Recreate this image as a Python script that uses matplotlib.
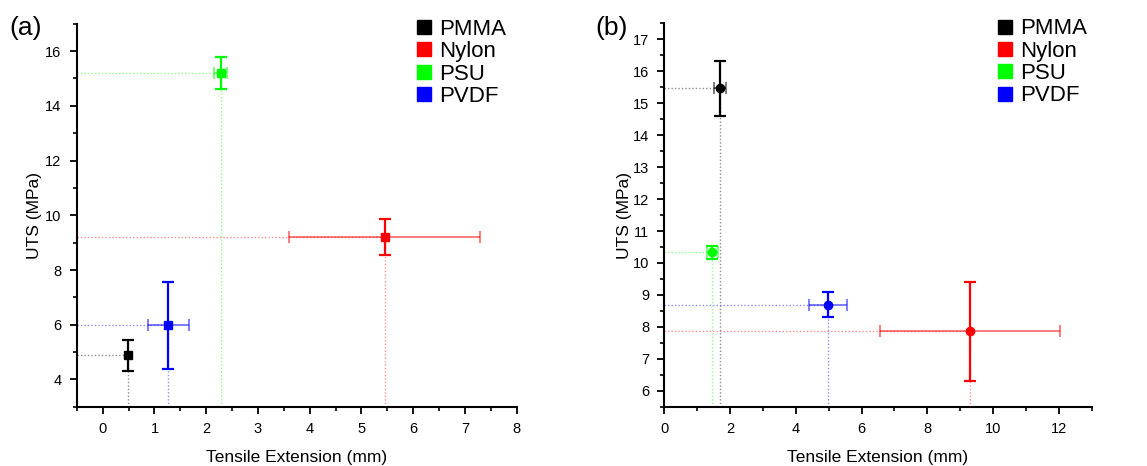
import matplotlib.pyplot as plt
from matplotlib.lines import Line2D
from matplotlib.ticker import MultipleLocator

plt.rcParams['font.family'] = ['Liberation Sans', 'DejaVu Sans']

materials = ["PMMA", "Nylon", "PSU", "PVDF"]
colors = ["#000000", "#ff0000", "#00ff00", "#0000ff"]

# панель (a)
ext_a = [0.48, 5.45, 2.28, 1.27]
ext_err_a = [0.0, 1.85, 0.13, 0.39]
uts_a = [4.88, 9.2, 15.2, 5.98]
uts_err_a = [0.57, 0.65, 0.58, 1.58]

# панель (b)
ext_b = [1.69, 9.3, 1.46, 4.98]
ext_err_b = [0.18, 2.74, 0.17, 0.59]
uts_b = [15.46, 7.87, 10.33, 8.7]
uts_err_b = [0.87, 1.55, 0.21, 0.38]


def draw_panel(ax, x, xe, y, ye, marker, xlim, ylim, ylabelpad, leg_x):
    for i in range(len(materials)):
        c = colors[i]
        # пунктирні лінії до осей
        ax.plot([xlim[0], x[i]], [y[i], y[i]], ls=(0, (1, 1.5)), lw=1, color=c, alpha=0.45, zorder=1)
        ax.plot([x[i], x[i]], [ylim[0], y[i]], ls=(0, (1, 1.5)), lw=1, color=c, alpha=0.45, zorder=1)
        if xe[i] > 0:
            ax.errorbar(x[i], y[i], xerr=xe[i], fmt='none', ecolor=c, alpha=0.6,
                        elinewidth=1.2, capsize=4, capthick=1.2, zorder=2)
        ax.errorbar(x[i], y[i], yerr=ye[i], fmt=marker, color=c, ms=6,
                    ecolor=c, elinewidth=1.6, capsize=4, capthick=1.6, zorder=3)
    ax.set_xlim(*xlim)
    ax.set_ylim(*ylim)
    for s in ['top', 'right']:
        ax.spines[s].set_visible(False)
    for s in ['left', 'bottom']:
        ax.spines[s].set_linewidth(1.5)
    ax.tick_params(which='major', direction='out', length=5, width=1.3, labelsize=10.5, pad=6)
    ax.tick_params(which='minor', direction='out', length=3, width=1.2)
    ax.set_xlabel("Tensile Extension (mm)", fontsize=12.5, labelpad=10)
    ax.set_ylabel("UTS (MPa)", fontsize=12.5, labelpad=ylabelpad)
    handles = [Line2D([], [], ls='none', marker='s', ms=10.5, color=c) for c in colors]
    ax.legend(handles, materials, loc='upper right', bbox_to_anchor=(leg_x, 1.065),
              frameon=False, fontsize=16, labelspacing=0.06, handletextpad=0.2,
              handlelength=1.0)


fig = plt.figure(figsize=(11.47, 4.66), dpi=100)
ax1 = fig.add_axes([0.067, 0.127, 0.3835, 0.822])
ax2 = fig.add_axes([0.5792, 0.127, 0.3726, 0.823])

draw_panel(ax1, ext_a, ext_err_a, uts_a, uts_err_a, 's', (-0.5, 8), (3, 17), 2, 1.022)
ax1.xaxis.set_major_locator(MultipleLocator(1))
ax1.xaxis.set_minor_locator(MultipleLocator(0.5))
ax1.yaxis.set_minor_locator(MultipleLocator(1))
ax1.set_yticks([4, 6, 8, 10, 12, 14, 16])

draw_panel(ax2, ext_b, ext_err_b, uts_b, uts_err_b, 'o', (0, 13), (5.5, 17.5), 0.5, 1.036)
ax2.xaxis.set_major_locator(MultipleLocator(2))
ax2.xaxis.set_minor_locator(MultipleLocator(1))
ax2.yaxis.set_minor_locator(MultipleLocator(0.5))
ax2.set_yticks(range(6, 18))

fig.text(0.008, 0.94, "(a)", fontsize=19, va='center')
fig.text(0.519, 0.94, "(b)", fontsize=19, va='center')

fig.savefig("out.png", dpi=100)
